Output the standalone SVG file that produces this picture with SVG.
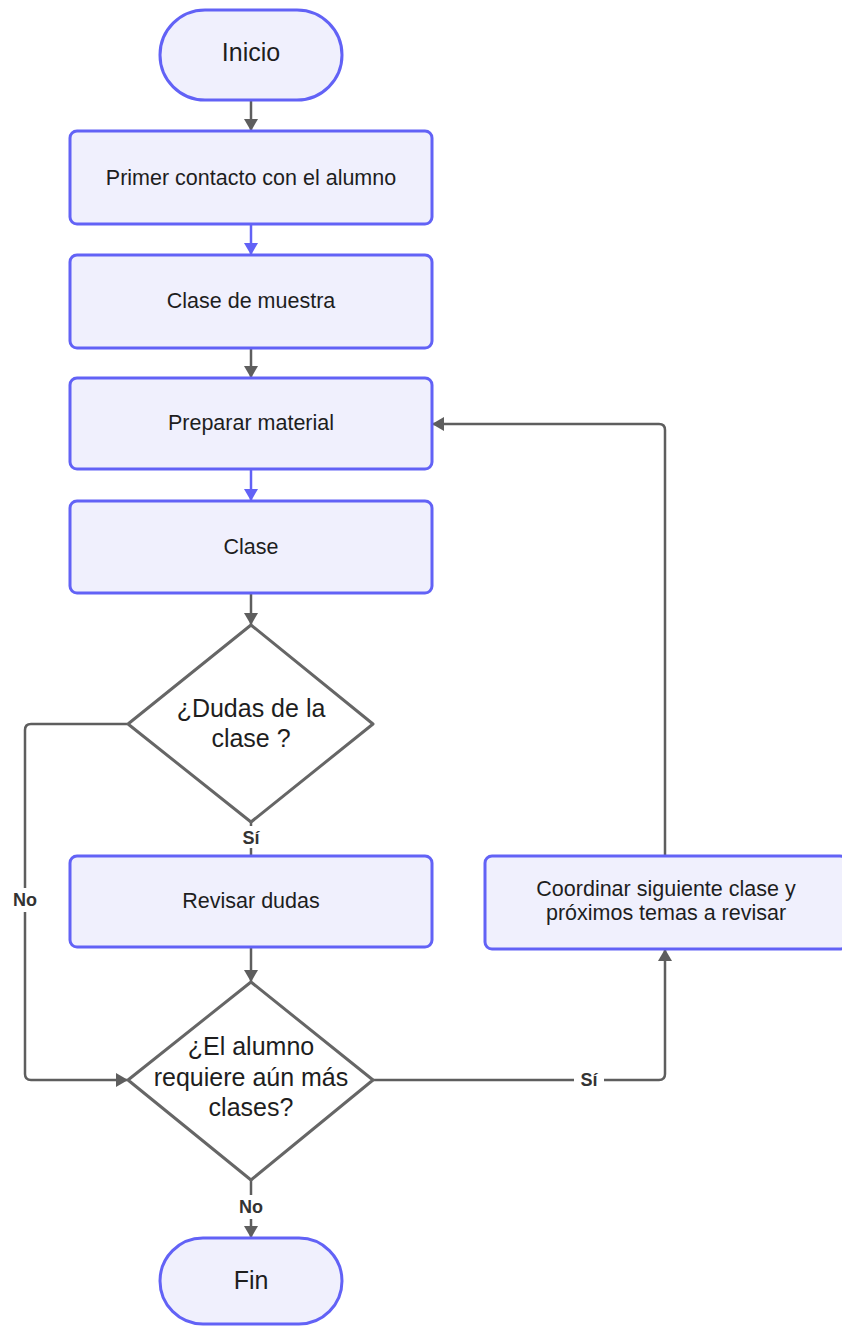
<svg xmlns="http://www.w3.org/2000/svg" width="842" height="1326" viewBox="0 0 842 1326">
<defs>
<marker id="ag" markerWidth="12" markerHeight="14" refX="11" refY="7" orient="auto" markerUnits="userSpaceOnUse"><path d="M0,0 L12,7 L0,14 Z" fill="#5e5e5e"/></marker>
<marker id="ab" markerWidth="12" markerHeight="14" refX="11" refY="7" orient="auto" markerUnits="userSpaceOnUse"><path d="M0,0 L12,7 L0,14 Z" fill="#6262f6"/></marker>
<style>
.box{fill:#f0f0fd;stroke:#6262f6;stroke-width:3}
.dia{fill:#ffffff;stroke:#666666;stroke-width:3;stroke-linejoin:round}
.t{font-family:"Liberation Sans",Arial,sans-serif;font-size:21.5px;fill:#1e1e1e;text-anchor:middle}
.tl{font-family:"Liberation Sans",Arial,sans-serif;font-size:25px;fill:#1e1e1e;text-anchor:middle}
.lb{font-family:"Liberation Sans",Arial,sans-serif;font-size:18px;font-weight:bold;fill:#333333;text-anchor:middle}
.c{fill:none;stroke:#5e5e5e;stroke-width:2.5}
.cb{fill:none;stroke:#6262f6;stroke-width:2.5}
</style>
</defs>
<rect width="842" height="1326" fill="#ffffff"/>
<g id="connectors">
<path class="c" d="M251,100 L251,130" marker-end="url(#ag)"/>
<path class="cb" d="M251,224 L251,254" marker-end="url(#ab)"/>
<path class="c" d="M251,348 L251,377" marker-end="url(#ag)"/>
<path class="cb" d="M251,469 L251,500" marker-end="url(#ab)"/>
<path class="c" d="M251,593 L251,624" marker-end="url(#ag)"/>
<path class="c" d="M251,822 L251,856"/>
<rect x="237" y="826" width="28" height="22" fill="#ffffff"/>
<text class="lb" x="251" y="844">Sí</text>
<path class="c" d="M127,724 L31,724 Q25,724 25,730 L25,1074 Q25,1080 31,1080 L127,1080" marker-end="url(#ag)"/>
<rect x="7" y="888" width="36" height="24" fill="#ffffff"/>
<text class="lb" x="25" y="906">No</text>
<path class="c" d="M251,947 L251,981" marker-end="url(#ag)"/>
<path class="c" d="M373,1080 L659,1080 Q665,1080 665,1074 L665,950" marker-end="url(#ag)"/>
<rect x="574" y="1068" width="30" height="22" fill="#ffffff"/>
<text class="lb" x="589" y="1086">Sí</text>
<path class="c" d="M665,856 L665,430 Q665,424 659,424 L433,424" marker-end="url(#ag)"/>
<path class="c" d="M251,1180 L251,1237" marker-end="url(#ag)"/>
<rect x="235" y="1195" width="32" height="24" fill="#ffffff"/>
<text class="lb" x="251" y="1213">No</text>
</g>
<g id="inicio"><rect class="box" x="160" y="10" width="182" height="90" rx="45"/><text class="tl" x="251" y="61">Inicio</text></g>
<g id="primer"><rect class="box" x="70" y="131" width="362" height="93" rx="7"/><text class="t" x="251" y="185">Primer contacto con el alumno</text></g>
<g id="muestra"><rect class="box" x="70" y="255" width="362" height="93" rx="7"/><text class="t" x="251" y="308">Clase de muestra</text></g>
<g id="preparar"><rect class="box" x="70" y="378" width="362" height="91" rx="7"/><text class="t" x="251" y="430">Preparar material</text></g>
<g id="clase"><rect class="box" x="70" y="501" width="362" height="92" rx="7"/><text class="t" x="251" y="554">Clase</text></g>
<g id="dudas"><path class="dia" d="M251,625 L373,724 L251,822 L128,724 Z"/><text class="tl" x="251" y="717">¿Dudas de la</text><text class="tl" x="251" y="747">clase ?</text></g>
<g id="revisar"><rect class="box" x="70" y="856" width="362" height="91" rx="7"/><text class="t" x="251" y="908">Revisar dudas</text></g>
<g id="requiere"><path class="dia" d="M251,982 L373,1080 L251,1180 L128,1080 Z"/><text class="tl" x="251" y="1055">¿El alumno</text><text class="tl" x="251" y="1086">requiere aún más</text><text class="tl" x="251" y="1116">clases?</text></g>
<g id="coordinar"><rect class="box" x="485" y="856" width="362" height="93" rx="7"/><text class="t" x="666" y="896">Coordinar siguiente clase y</text><text class="t" x="666" y="920">próximos temas a revisar</text></g>
<g id="fin"><rect class="box" x="160" y="1238" width="182" height="86" rx="43"/><text class="tl" x="251" y="1289">Fin</text></g>
</svg>
